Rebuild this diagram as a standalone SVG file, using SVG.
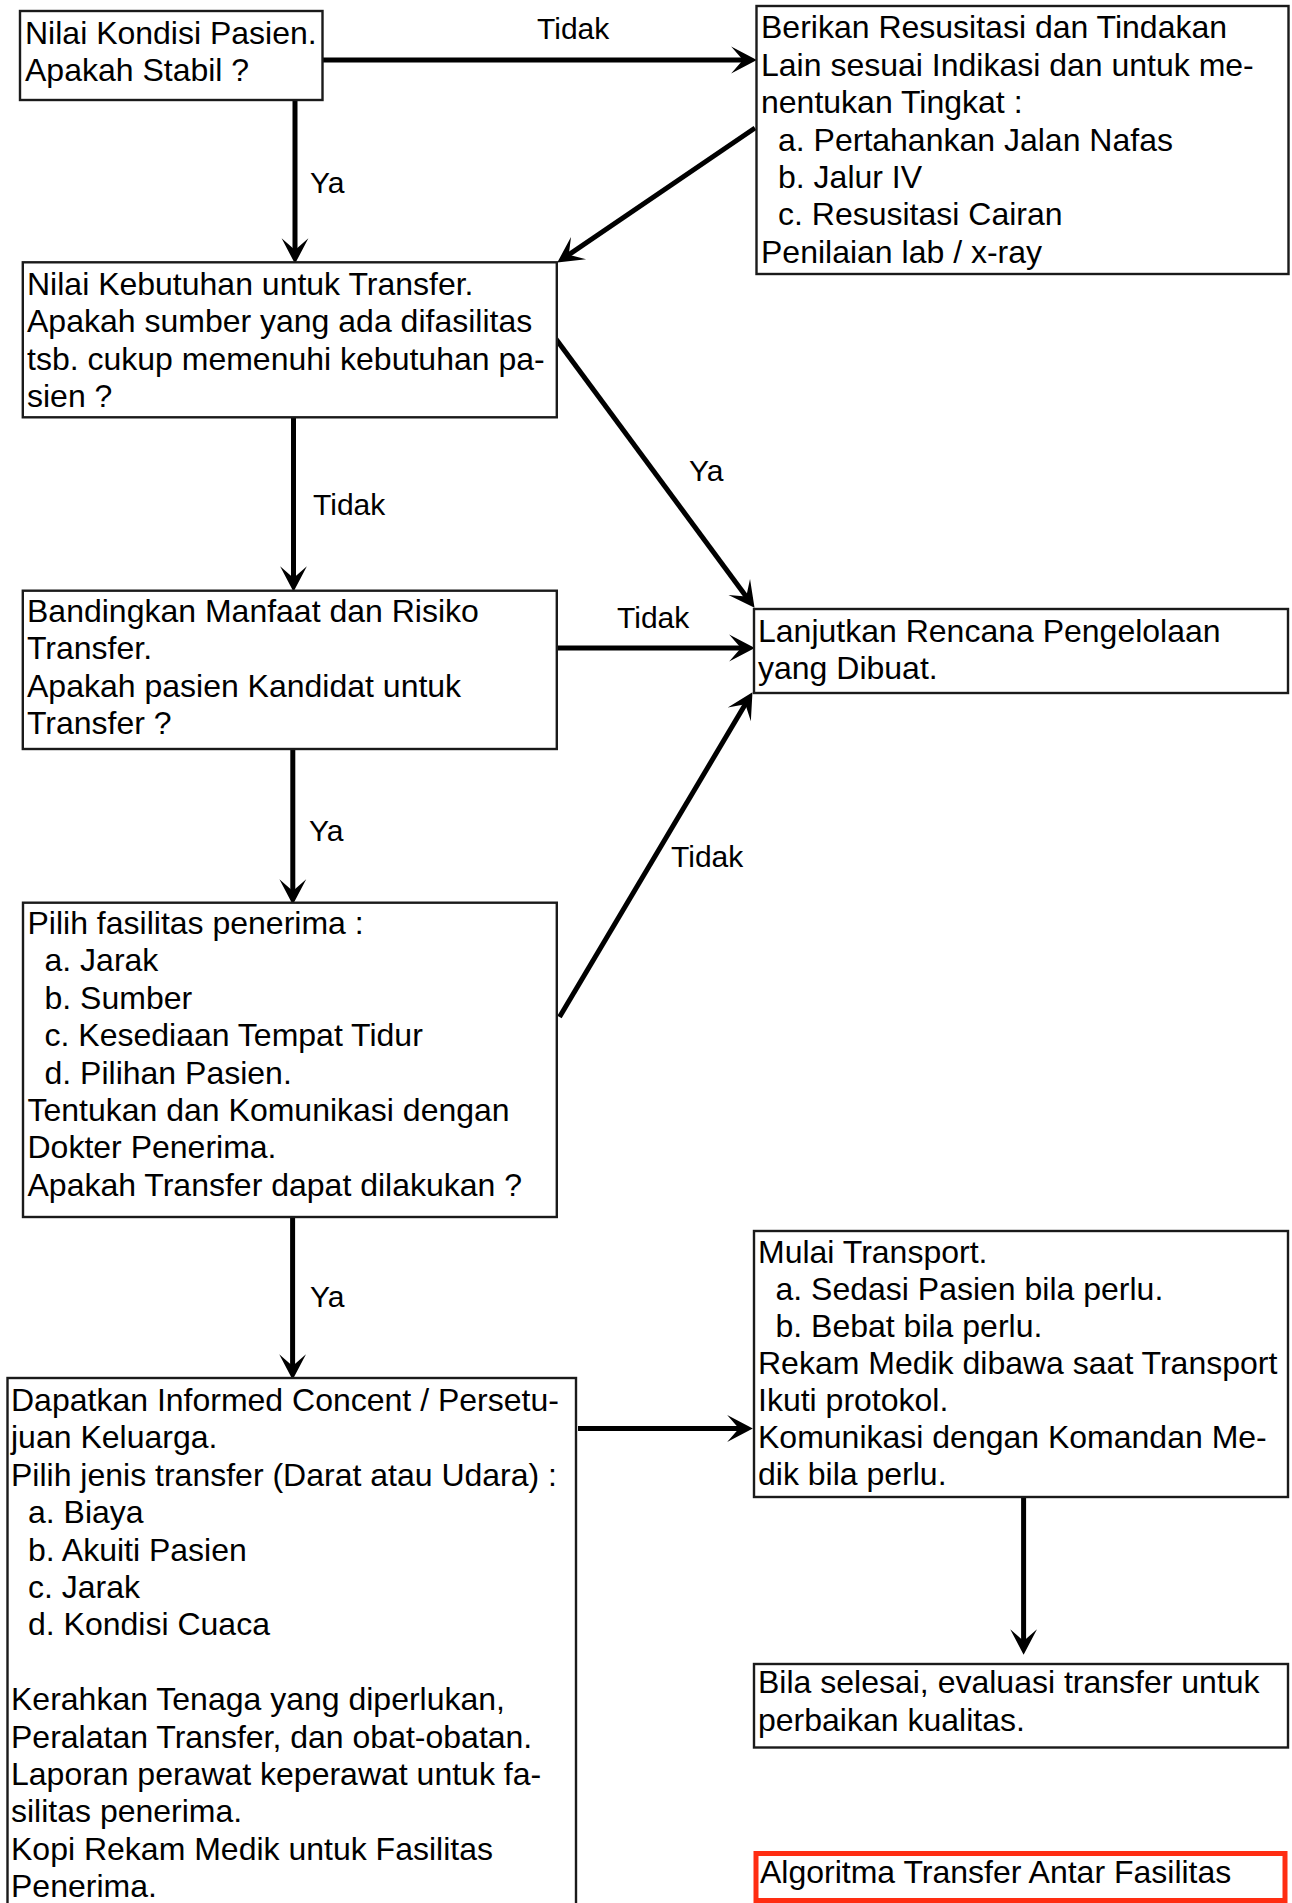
<svg xmlns="http://www.w3.org/2000/svg" width="1292" height="1903" viewBox="0 0 1292 1903">
<style>
.box{fill:#fff;stroke:#1a1a1a;stroke-width:2.4}
.red{fill:#fff;stroke:#ff2d12;stroke-width:5}
.t{font-family:"Liberation Sans",Arial,sans-serif;font-size:32px;fill:#000}
.l{font-family:"Liberation Sans",Arial,sans-serif;font-size:30px;fill:#000}
.c{fill:none;stroke:#000;stroke-width:5}
</style>
<defs>
<marker id="ar" markerUnits="userSpaceOnUse" markerWidth="30" markerHeight="30" viewBox="-26 -14 28 28" refX="-12" refY="0" orient="auto">
<path d="M0,0 L-24,-12.5 L-13,0 L-24,12.5 Z" fill="#000"/>
</marker>
</defs>
<rect width="1292" height="1903" fill="#fff"/>
<g id="connectors">
<line class="c" x1="322" y1="60" x2="744" y2="60" marker-end="url(#ar)"/>
<line class="c" x1="295" y1="100" x2="295" y2="251" marker-end="url(#ar)"/>
<line class="c" x1="755" y1="128" x2="567.9" y2="255.3" marker-end="url(#ar)"/>
<line class="c" x1="293.5" y1="417" x2="293.5" y2="579" marker-end="url(#ar)"/>
<line class="c" x1="553" y1="335" x2="746.9" y2="597.4" marker-end="url(#ar)"/>
<line class="c" x1="557" y1="648" x2="742" y2="648" marker-end="url(#ar)"/>
<line class="c" x1="292.8" y1="749" x2="292.8" y2="892" marker-end="url(#ar)"/>
<line class="c" x1="559.5" y1="1017" x2="745.9" y2="703.3" marker-end="url(#ar)"/>
<line class="c" x1="292.6" y1="1217" x2="292.6" y2="1367" marker-end="url(#ar)"/>
<line class="c" x1="578" y1="1428.5" x2="740" y2="1428.5" marker-end="url(#ar)"/>
<line class="c" x1="1023.6" y1="1497" x2="1023.6" y2="1642" marker-end="url(#ar)"/>
<text class="l" x="537" y="39">Tidak</text>
<text class="l" x="310" y="193">Ya</text>
<text class="l" x="313" y="515">Tidak</text>
<text class="l" x="689" y="481">Ya</text>
<text class="l" x="617" y="628">Tidak</text>
<text class="l" x="309" y="841">Ya</text>
<text class="l" x="671" y="867">Tidak</text>
<text class="l" x="310" y="1307">Ya</text>
</g>
<g id="nodeA">
<rect class="box" x="20" y="11" width="302.5" height="89"/>
<text class="t" x="25" y="44">Nilai Kondisi Pasien.</text>
<text class="t" x="25" y="81">Apakah Stabil ?</text>
</g>
<g id="nodeB">
<rect class="box" x="756.5" y="6" width="532" height="268"/>
<text class="t" x="761" y="38.3">Berikan Resusitasi dan Tindakan</text>
<text class="t" x="761" y="75.7">Lain sesuai Indikasi dan untuk me-</text>
<text class="t" x="761" y="113.1">nentukan Tingkat :</text>
<text class="t" x="778" y="150.5">a. Pertahankan Jalan Nafas</text>
<text class="t" x="778" y="187.9">b. Jalur IV</text>
<text class="t" x="778" y="225.3">c. Resusitasi Cairan</text>
<text class="t" x="761" y="262.7">Penilaian lab / x-ray</text>
</g>
<g id="nodeC">
<rect class="box" x="22.8" y="262.3" width="534" height="155"/>
<text class="t" x="27" y="295">Nilai Kebutuhan untuk Transfer.</text>
<text class="t" x="27" y="332.4">Apakah sumber yang ada difasilitas</text>
<text class="t" x="27" y="369.8">tsb. cukup memenuhi kebutuhan pa-</text>
<text class="t" x="27" y="407.2">sien ?</text>
</g>
<g id="nodeD">
<rect class="box" x="22.8" y="590.7" width="534" height="158.3"/>
<text class="t" x="27" y="622">Bandingkan Manfaat dan Risiko</text>
<text class="t" x="27" y="659.4">Transfer.</text>
<text class="t" x="27" y="696.8">Apakah pasien Kandidat untuk</text>
<text class="t" x="27" y="734.2">Transfer ?</text>
</g>
<g id="nodeE">
<rect class="box" x="754" y="609" width="534" height="84"/>
<text class="t" x="758" y="642">Lanjutkan Rencana Pengelolaan</text>
<text class="t" x="758" y="679">yang Dibuat.</text>
</g>
<g id="nodeF">
<rect class="box" x="23" y="902.7" width="533.8" height="314.3"/>
<text class="t" x="27.5" y="934">Pilih fasilitas penerima :</text>
<text class="t" x="44.5" y="971.4">a. Jarak</text>
<text class="t" x="44.5" y="1008.8">b. Sumber</text>
<text class="t" x="44.5" y="1046.2">c. Kesediaan Tempat Tidur</text>
<text class="t" x="44.5" y="1083.6">d. Pilihan Pasien.</text>
<text class="t" x="27.5" y="1121">Tentukan dan Komunikasi dengan</text>
<text class="t" x="27.5" y="1158.4">Dokter Penerima.</text>
<text class="t" x="27.5" y="1195.8">Apakah Transfer dapat dilakukan ?</text>
</g>
<g id="nodeG">
<rect class="box" x="7.5" y="1378" width="568.5" height="540"/>
<text class="t" x="11" y="1411">Dapatkan Informed Concent / Persetu-</text>
<text class="t" x="11" y="1448.4">juan Keluarga.</text>
<text class="t" x="11" y="1485.8">Pilih jenis transfer (Darat atau Udara) :</text>
<text class="t" x="28" y="1523.2">a. Biaya</text>
<text class="t" x="28" y="1560.6">b. Akuiti Pasien</text>
<text class="t" x="28" y="1598">c. Jarak</text>
<text class="t" x="28" y="1635.4">d. Kondisi Cuaca</text>
<text class="t" x="11" y="1710.2">Kerahkan Tenaga yang diperlukan,</text>
<text class="t" x="11" y="1747.6">Peralatan Transfer, dan obat-obatan.</text>
<text class="t" x="11" y="1785">Laporan perawat keperawat untuk fa-</text>
<text class="t" x="11" y="1822.4">silitas penerima.</text>
<text class="t" x="11" y="1859.8">Kopi Rekam Medik untuk Fasilitas</text>
<text class="t" x="11" y="1897.2">Penerima.</text>
</g>
<g id="nodeH">
<rect class="box" x="754" y="1231" width="534" height="266"/>
<text class="t" x="758" y="1263">Mulai Transport.</text>
<text class="t" x="775.5" y="1300">a. Sedasi Pasien bila perlu.</text>
<text class="t" x="775.5" y="1337">b. Bebat bila perlu.</text>
<text class="t" x="758" y="1374">Rekam Medik dibawa saat Transport</text>
<text class="t" x="758" y="1411">Ikuti protokol.</text>
<text class="t" x="758" y="1448">Komunikasi dengan Komandan Me-</text>
<text class="t" x="758" y="1485">dik bila perlu.</text>
</g>
<g id="nodeI">
<rect class="box" x="754" y="1664" width="534" height="83.5"/>
<text class="t" x="758" y="1693">Bila selesai, evaluasi transfer untuk</text>
<text class="t" x="758" y="1731">perbaikan kualitas.</text>
</g>
<g id="nodeJ">
<rect class="red" x="756" y="1853.5" width="529" height="47"/>
<text class="t" x="760" y="1883">Algoritma Transfer Antar Fasilitas</text>
</g>
</svg>
